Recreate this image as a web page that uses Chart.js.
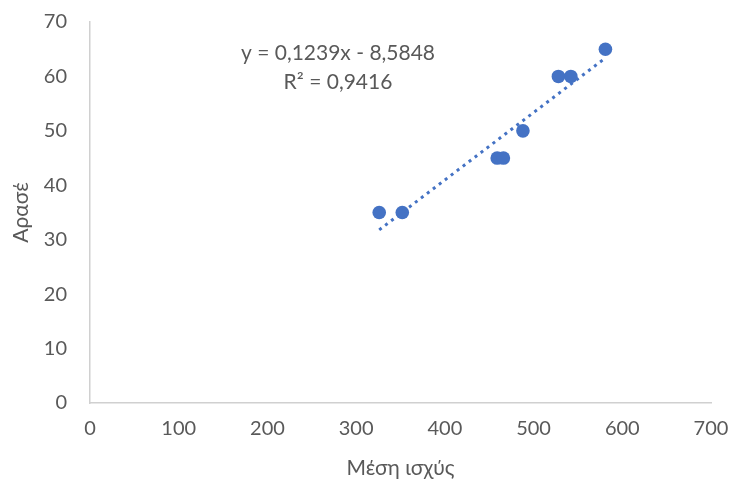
<!DOCTYPE html>
<html>
<head>
<meta charset="utf-8">
<script src="https://cdn.jsdelivr.net/npm/chart.js@4/dist/chart.umd.min.js"></script>
<style>
  html, body { margin: 0; padding: 0; background: #ffffff; }
  #wrap { width: 731px; height: 487px; position: relative; }
</style>
</head>
<body>
<div id="wrap"><canvas id="c" width="731" height="487"></canvas></div>
<script>
// Data
const powerValues = [326, 352, 459, 466, 488, 528, 542, 581];   // Μέση ισχύς
const araseValues = [35, 35, 45, 45, 50, 60, 60, 65];           // Αρασέ
const xTickLabels = [0, 100, 200, 300, 400, 500, 600, 700];
const yTickLabels = [0, 10, 20, 30, 40, 50, 60, 70];
const trendSlope = 0.1239;
const trendIntercept = -8.5848;
const equationText = 'y = 0,1239x - 8,5848';
const r2Text = 'R² = 0,9416';
const xTitle = 'Μέση ισχύς';
const yTitle = 'Αρασέ';

const points = powerValues.map((x, i) => ({ x: x, y: araseValues[i] }));
const xMin = Math.min(...powerValues), xMax = Math.max(...powerValues);
const trend = [xMin, xMax].map(x => ({ x: x, y: trendSlope * x + trendIntercept }));

const grey = '#595959';
const blue = '#4472C4';
const fontFamily = 'Lato, "Open Sans", sans-serif';

const eqPlugin = {
  id: 'eqLabel',
  afterDatasetsDraw(chart) {
    const ctx = chart.ctx;
    ctx.save();
    ctx.fillStyle = grey;
    ctx.font = '21px ' + fontFamily;
    ctx.textAlign = 'center';
    ctx.textBaseline = 'middle';
    ctx.fillText(equationText, 338, 53);
    ctx.fillText(r2Text, 338, 82);
    ctx.restore();
  }
};

new Chart(document.getElementById('c'), {
  type: 'scatter',
  data: {
    datasets: [
      {
        label: 'trend',
        data: trend,
        showLine: true,
        borderColor: blue,
        borderWidth: 3,
        borderDash: [3, 4.5],
        pointRadius: 0,
        fill: false,
        order: 0
      },
      {
        label: yTitle,
        data: points,
        backgroundColor: blue,
        borderColor: blue,
        pointRadius: 6.8,
        pointBorderWidth: 0,
        order: 1
      }
    ]
  },
  options: {
    responsive: false,
    animation: false,
    devicePixelRatio: 1,
    layout: { padding: { top: 22, right: 20, left: 0, bottom: 0 } },
    plugins: { legend: { display: false }, tooltip: { enabled: false } },
    scales: {
      x: {
        type: 'linear',
        min: 0, max: 700,
        afterBuildTicks(scale) { scale.ticks = xTickLabels.map(v => ({ value: v })); },
        afterFit(scale) { scale.height = 84; scale.paddingLeft = 0; scale.paddingRight = 0; },
        grid: { display: false, drawTicks: false },
        border: { display: true, color: '#d0d0d0', width: 1.5 },
        ticks: { color: grey, font: { family: fontFamily, size: 20, lineHeight: 1.2 }, padding: 14, maxRotation: 0 },
        title: { display: true, text: xTitle, color: grey, font: { family: fontFamily, size: 21, lineHeight: 1.2 }, padding: { top: 0, bottom: 6 } }
      },
      y: {
        type: 'linear',
        min: 0, max: 70,
        afterBuildTicks(scale) { scale.ticks = yTickLabels.map(v => ({ value: v })); },
        afterFit(scale) { scale.width = 90; scale.paddingTop = 0; scale.paddingBottom = 0; },
        grid: { display: false, drawTicks: false },
        border: { display: true, color: '#d0d0d0', width: 1.5 },
        ticks: { color: grey, font: { family: fontFamily, size: 20, lineHeight: 1.2 }, padding: 23 },
        title: { display: true, text: yTitle, color: grey, font: { family: fontFamily, size: 21, lineHeight: 1.2 }, padding: { top: 9, bottom: 0 } }
      }
    }
  },
  plugins: [eqPlugin]
});
</script>
</body>
</html>
